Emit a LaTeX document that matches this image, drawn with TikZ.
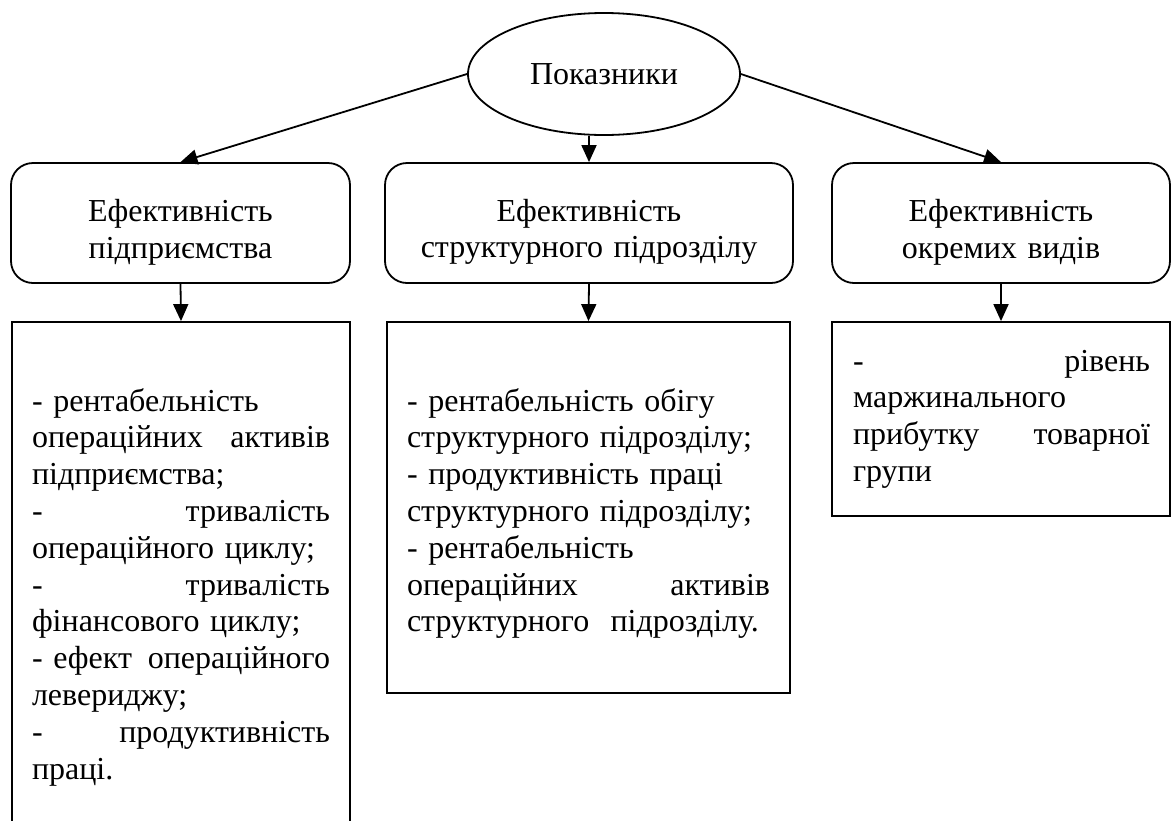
\documentclass[tikz,border=0pt]{standalone}
\usepackage{fontspec}
\setmainfont{Liberation Serif}
\usetikzlibrary{shapes.geometric,arrows.meta,calc}

\newcommand{\spreadline}[2]{\leavevmode\hbox to\hsize{#1\hfill #2}}

\begin{document}
\begin{tikzpicture}[x=1pt,y=-1pt,line width=1.8pt,
    font=\fontsize{32}{36.8}\selectfont,
    arrow/.style={-{Triangle[length=17pt,width=15pt]}},
    effbox/.style={draw,rounded corners=22pt,minimum width=#1,minimum height=120pt,
        inner sep=0pt,text width=#1,align=center,execute at begin node=\rule{0pt}{40pt}},
    listbox/.style={draw,minimum width=#1,inner sep=0pt},
    listtext/.style={text width=#1,align=left,inner sep=0pt,anchor=base west}]
\useasboundingbox (0,0) rectangle (1176,820);

\node[draw,ellipse,minimum width=272pt,minimum height=122pt,inner sep=0pt] (pok) at (604,74) {Показники};

\node[effbox=339pt] (effa) at (180.5,223) {Ефективність\\підприємства};
\node[effbox=408pt] (effb) at (589,223) {Ефективність\\структурного підрозділу};
\node[effbox=338pt] (effc) at (1001,223) {Ефективність\\окремих видів};

\node[listbox=338pt,minimum height=518pt] (lista) at (181,581) {};
\node[listbox=403pt,minimum height=371pt] (listb) at (588.5,507.5) {};
\node[listbox=338pt,minimum height=194pt] (listc) at (1001,419) {};

\node[listtext=298pt] (texta) at ($(lista.north west)+(20,90)$) {- рентабельність\\
\spreadline{операційних}{активів}\\
підприємства;\\
\spreadline{-}{тривалість}\\
операційного циклу;\\
\spreadline{-}{тривалість}\\
фінансового циклу;\\
\spreadline{- ефект}{операційного}\\
левериджу;\\
\spreadline{-}{продуктивність}\\
праці.};
\node[listtext=363pt] (textb) at ($(listb.north west)+(20,90)$) {- рентабельність обігу\\
структурного підрозділу;\\
- продуктивність праці\\
структурного підрозділу;\\
- рентабельність\\
\spreadline{операційних}{активів}\\
структурного\ \ підрозділу.};
\node[listtext=297pt] (textc) at ($(listc.north west)+(21,50)$) {\spreadline{-}{рівень}\\
маржинального\\
\spreadline{прибутку}{товарної}\\
групи};

\draw[arrow] (pok.west) -- (effa.north);
\draw[arrow] (pok.south -| effb.north) -- (effb.north);
\draw[arrow] (pok.east) -- (effc.north);
\foreach \a/\b in {effa/lista, effb/listb, effc/listc}
    \draw[arrow] (\a.south) -- (\b.north);
\end{tikzpicture}
\end{document}
